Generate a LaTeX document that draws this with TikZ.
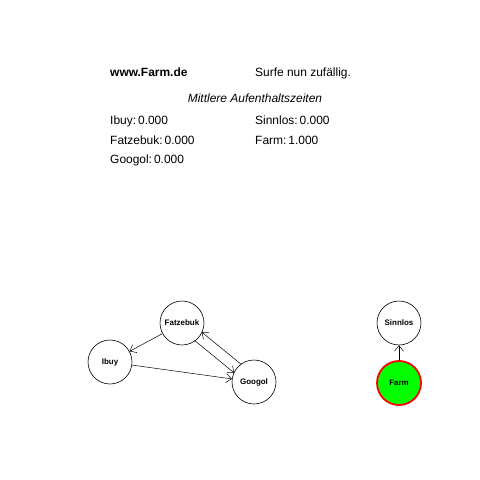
\documentclass[tikz,border=0pt]{standalone}
\usepackage{fontspec}
\setmainfont{Liberation Sans}
\usetikzlibrary{arrows.meta,calc}
\begin{document}
\begin{tikzpicture}[x=1bp,y=-1bp,
  vtx/.style={circle,draw=black,line width=0.6bp,minimum size=44bp,inner sep=0pt,font=\fontsize{8}{9}\selectfont\bfseries},
  farmv/.style={vtx,draw=red,fill=green,line width=1.8bp},
  arr/.style={-{Straight Barb[length=5.5bp,width=9bp]},line width=0.5bp},
  txt/.style={anchor=base west,inner sep=0pt,font=\fontsize{12}{14}\selectfont}]
\fill[white] (0,0) rectangle (480,480);
\useasboundingbox (0,0) rectangle (480,480);
\node[txt,font=\fontsize{12}{14}\selectfont\bfseries] (t1) at (110,77) {www.Farm.de};
\node[txt] (t2) at (255,77) {Surfe nun zufällig.};
\node[txt,anchor=base,font=\fontsize{12}{14}\selectfont\itshape] (t3) at (255,103) {Mittlere Aufenthaltszeiten};
\node[txt] (t4) at (110,125) {Ibuy:\hspace{2bp}0.000};
\node[txt] (t5) at (255,125) {Sinnlos:\hspace{2bp}0.000};
\node[txt] (t6) at (110,145) {Fatzebuk:\hspace{2bp}0.000};
\node[txt] (t7) at (255,145) {Farm:\hspace{2bp}1.000};
\node[txt] (t8) at (110,164) {Googol:\hspace{2bp}0.000};

\node[vtx] (f) at (182,323) {Fatzebuk};
\node[vtx] (i) at (110,362) {Ibuy};
\node[vtx] (g) at (254,382) {Googol};
\node[vtx] (s) at (399,323) {Sinnlos};
\node[farmv] (m) at (399,383) {Farm};

\draw[arr] (f) -- (i);
\draw[arr] (i) -- (g);
\draw[arr,shorten <=21bp,shorten >=21bp] ($(f)!5.5bp!-90:(g)$) -- ($(g)!5.5bp!90:(f)$);
\draw[arr,shorten <=21bp,shorten >=21bp] ($(g)!5.5bp!-90:(f)$) -- ($(f)!5.5bp!90:(g)$);
\draw[arr] (m) -- (s);
\end{tikzpicture}
\end{document}
